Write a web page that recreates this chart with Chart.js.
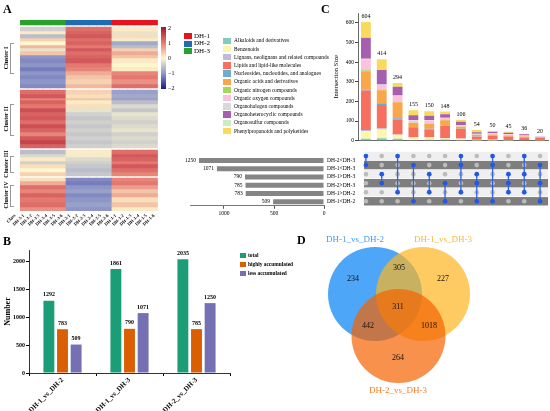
<!DOCTYPE html>
<html>
<head>
<meta charset="utf-8">
<title>Differential metabolites</title>
<script src="https://cdn.jsdelivr.net/npm/chart.js@4.4.1/dist/chart.umd.min.js"></script>
<style>
  html, body { margin: 0; padding: 0; background: #fff; }
  #page { position: relative; width: 550px; height: 411px; overflow: hidden; font-family: "Liberation Serif", "Times New Roman", serif; color: #000; }
  #page canvas { position: absolute; }
  .txt { position: absolute; white-space: nowrap; line-height: 1; }
  .letter { font-size: 12px; font-weight: bold; }
  .sw { position: absolute; }
  .mid { transform: translate(-50%, -50%); }
  .rot { transform: translate(-50%, -50%) rotate(-90deg); font-weight: bold; font-size: 6px; }
  .brk { position: absolute; border: 0.8px solid #999; border-right: none; width: 3px; }
</style>
</head>
<body>
<div id="page">
  <canvas id="hmc" width="19" height="230" style="left:0;top:18px"></canvas>
  <canvas id="hm" width="156" height="230" style="left:4px;top:18px"></canvas>
  <canvas id="up" width="225" height="137" style="left:325px;top:8px"></canvas>
  <canvas id="ss" width="182" height="68" style="left:178px;top:150px"></canvas>
  <canvas id="mx" width="192" height="58" style="left:358px;top:150px"></canvas>
  <canvas id="bb" width="235" height="171" style="left:0;top:240px"></canvas>
  <canvas id="vn" width="250" height="176" style="left:300px;top:235px"></canvas>

  <div class="txt letter" style="left:3px;top:3px">A</div>
  <div class="txt letter" style="left:3px;top:235px">B</div>
  <div class="txt letter" style="left:321px;top:3px">C</div>
  <div class="txt letter" style="left:297px;top:234px">D</div>

  <!-- heatmap colour key -->
  <div class="sw" style="left:161px;top:27px;width:4.5px;height:62px;background:linear-gradient(to bottom,rgb(168,18,42) 0%,rgb(228,120,112) 25%,rgb(253,247,206) 50%,rgb(142,150,200) 75%,rgb(27,27,138) 100%)"></div>
  <div class="txt" style="left:168px;top:25px;font-size:6px">2</div>
  <div class="txt" style="left:168px;top:39.5px;font-size:6px">1</div>
  <div class="txt" style="left:168px;top:55px;font-size:6px">0</div>
  <div class="txt" style="left:168px;top:70px;font-size:6px">&minus;1</div>
  <div class="txt" style="left:168px;top:84.5px;font-size:6px">&minus;2</div>

  <!-- cluster labels and dendrogram brackets -->
  <div class="txt rot" style="left:6px;top:58px">Cluster I</div>
  <div class="txt rot" style="left:6px;top:119px">Cluster II</div>
  <div class="txt rot" style="left:6px;top:164px">Cluster III</div>
  <div class="txt rot" style="left:6px;top:195px">Cluster IV</div>
  <div class="brk" style="left:10px;top:43px;height:29px"></div>
  <div class="brk" style="left:10px;top:104px;height:30px"></div>
  <div class="brk" style="left:10px;top:156px;height:15px"></div>
  <div class="brk" style="left:10px;top:185px;height:20px"></div>

  <!-- venn titles -->
  <div class="txt mid" style="left:355px;top:239px;font-size:9px;color:#3D9CF5">DH-1_vs_DH-2</div>
  <div class="txt mid" style="left:443px;top:239px;font-size:9px;color:#F5B93A">DH-1_vs_DH-3</div>
  <div class="txt mid" style="left:398px;top:390px;font-size:9px;color:#F77F2A">DH-2_vs_DH-3</div>

  <div id="legends"></div>
</div>

<script>
// ---------- data ----------
// heatmap: sample columns (green DH-3, blue DH-2, red DH-1)
const hmSamples = ['DH-3-1', 'DH-3-2', 'DH-3-3', 'DH-3-4', 'DH-3-5', 'DH-3-6',
  'DH-2-1', 'DH-2-2', 'DH-2-3', 'DH-2-4', 'DH-2-5', 'DH-2-6',
  'DH-1-1', 'DH-1-2', 'DH-1-3', 'DH-1-4', 'DH-1-5', 'DH-1-6'];
// row bands: [rows, DH-3 z, DH-2 z, DH-1 z, class shade]
const clusterI = [
  [4, -0.4, 1.1, 0.1, 0], [3, 0.1, 1.2, -0.2, 1], [4, -0.6, 1.3, 0.2, 0], [3, 0.3, 1.1, -0.1, 2],
  [4, 0.0, 1.2, -0.8, 0], [3, 0.5, 1.0, -0.6, 1], [3, -0.2, 1.3, 0.3, 0], [4, 0.4, 1.1, 0.6, 2],
  [3, -1.0, 1.2, 0.4, 0], [5, -1.1, 1.3, 0.1, 1], [4, -1.0, 1.0, 0.0, 0], [4, -1.2, 0.9, 0.1, 0],
  [4, -1.0, 0.6, 0.9, 2], [4, -1.1, 0.4, 1.0, 0], [5, -1.0, 0.3, 0.8, 1], [4, -1.1, 0.5, 1.1, 0]
];
const clusterII = [
  [4, 1.1, 0.3, -0.9, 0], [4, 1.3, 0.2, -0.8, 1], [2, 0.9, 0.4, -0.9, 0], [4, 1.2, 0.1, -0.6, 2],
  [4, 1.0, 0.2, -0.3, 0], [4, 1.4, -0.2, -0.5, 0], [4, 1.2, -0.4, -0.2, 1], [4, 1.3, -0.5, -0.3, 0],
  [4, 1.1, -0.4, -0.4, 2], [4, 1.4, -0.5, -0.3, 0], [4, 1.2, -0.4, -0.2, 1], [4, 0.9, -0.5, -0.4, 0],
  [4, 1.3, -0.4, -0.3, 0], [4, 1.5, -0.5, -0.4, 2], [4, 1.2, -0.4, -0.3, 0]
];
const clusterIII = [
  [4, -0.6, 0.1, 1.1, 0], [3, -0.3, -0.1, 1.3, 1], [4, 0.1, -0.3, 1.2, 0], [3, -0.4, -0.4, 1.0, 2],
  [4, 0.2, -0.5, 1.3, 0], [4, 0.0, -0.6, 1.1, 1], [4, 0.3, -0.5, 0.9, 0]
];
const clusterIV = [
  [3, 0.2, -1.1, 0.9, 1], [4, 0.6, -1.2, 1.0, 0], [4, 1.1, -1.0, 0.7, 2], [4, 0.9, -0.9, 0.4, 0],
  [4, 1.2, -1.1, 0.6, 1], [5, 1.0, -1.0, 0.2, 0], [5, 1.1, -0.9, 0.4, 2], [4, 0.8, -1.0, 0.1, 0]
];

// upset: intersections of the six direction sets
const setNames = ['DH-2<DH-3', 'DH-1<DH-3', 'DH-1>DH-3', 'DH-2>DH-3', 'DH-1>DH-2', 'DH-1<DH-2'];
const setSizes = [1250, 1071, 790, 785, 783, 509];
const setTicks = [0, 500, 1000];
const intersectSets = [[0, 1], [2, 3], [0, 4], [1, 5], [2, 4], [3, 5],
  [0, 1, 4], [2, 3, 5], [0, 1, 5], [2, 3, 4], [0, 2, 4], [1, 3, 5]];
const intersectSizes = [604, 414, 294, 155, 150, 148, 106, 54, 50, 45, 36, 20];
const intersectTicks = [0, 100, 200, 300, 400, 500, 600];
const upClasses = ['Alkaloids and derivatives', 'Benzenoids', 'Lignans, neolignans and related compounds',
  'Lipids and lipid-like molecules', 'Nucleosides, nucleotides, and analogues', 'Organic acids and derivatives',
  'Organic nitrogen compounds', 'Organic oxygen compounds', 'Organohalogen compounds',
  'Organoheterocyclic compounds', 'Organosulfur compounds', 'Phenylpropanoids and polyketides'];
const alkaloids = [10, 12, 10, 4, 5, 6, 2, 1, 1, 1, 0, 0];
const benzenoids = [39, 45, 20, 12, 12, 6, 8, 3, 4, 3, 2, 1];
const lignans = [6, 7, 2, 2, 2, 2, 1, 1, 0, 0, 0, 0];
const lipids = [200, 118, 76, 50, 38, 62, 48, 15, 20, 17, 14, 15];
const nucleosides = [6, 8, 6, 2, 4, 2, 2, 1, 1, 1, 1, 0];
const organicAcids = [93, 67, 82, 20, 24, 26, 10, 8, 6, 5, 4, 2];
const organicNitrogen = [5, 3, 2, 1, 2, 1, 1, 1, 0, 0, 0, 0];
const organicOxygen = [55, 24, 30, 12, 16, 10, 6, 5, 5, 6, 6, 1];
const organohalogen = [3, 2, 2, 2, 2, 2, 1, 1, 1, 1, 0, 0];
const organoheterocyclic = [107, 74, 44, 24, 22, 18, 18, 7, 6, 6, 6, 1];
const organosulfur = [3, 0, 0, 0, 0, 0, 0, 0, 0, 0, 0, 0];
const phenylpropanoids = [77, 54, 20, 26, 23, 13, 9, 11, 6, 5, 3, 0];
const upCounts = [alkaloids, benzenoids, lignans, lipids, nucleosides, organicAcids,
  organicNitrogen, organicOxygen, organohalogen, organoheterocyclic, organosulfur, phenylpropanoids];

// bar chart B
const comparisons = ['DH-1_vs_DH-2', 'DH-1_vs_DH-3', 'DH-2_vs_DH-3'];
const totalCounts = [1292, 1861, 2035];
const highCounts = [783, 790, 785];
const lessCounts = [509, 1071, 1250];
const numberTicks = [0, 500, 1000, 1500, 2000];

// venn D
const vennCounts = [234, 305, 227, 311, 442, 1018, 264];

// ---------- styles / layout ----------
const serif = '"Liberation Serif", "Times New Roman", serif';
Chart.defaults.font.family = serif;
Chart.defaults.color = '#000';
Chart.defaults.animation = false;
Chart.defaults.responsive = false;
Chart.defaults.events = [];
Chart.defaults.plugins.legend.display = false;
Chart.defaults.plugins.tooltip.enabled = false;

const groupColors = ['#2BA02B', '#1F6CB4', '#E8141C'];
const classShades = ['#F6CBA6', '#F1B389', '#F9DCC2'];
const heatStops = [[-2, [27, 27, 138]], [-1, [142, 150, 200]], [0, [253, 247, 206]], [1, [228, 120, 112]], [2, [168, 18, 42]]];
const upColors = ['#80CDB9', '#FBF7AC', '#BEBADA', '#F7705F', '#6FAAD3', '#F9A74A',
  '#A6D65A', '#F9C3DF', '#D9D9D9', '#A65FAE', '#CCEBC5', '#F9DA5C'];
const barColors = ['#1B9E77', '#D95F02', '#7570B3'];
const vennCircles = [ // centre (px in canvas) and radius, drawn bottom to top
  { x: 75, y: 59, r: 47, color: 'rgba(1,128,245,0.7)' },
  { x: 123, y: 59, r: 47, color: 'rgba(252,181,31,0.7)' },
  { x: 98.5, y: 101, r: 47, color: 'rgba(244,99,0,0.7)' }
];
const vennLabelPos = [[53, 44], [99, 33], [143, 44], [98, 72], [68, 91], [129, 91], [98, 123]];
const transparent = 'rgba(0,0,0,0)';

function heatColor(v) {
  v = Math.max(-2, Math.min(2, v));
  for (let k = 0; k < heatStops.length - 1; k++) {
    const a = heatStops[k], b = heatStops[k + 1];
    if (v <= b[0]) {
      const t = (v - a[0]) / (b[0] - a[0]);
      const c = a[1].map((x, j) => Math.round(x + (b[1][j] - x) * t));
      return 'rgb(' + c.join(',') + ')';
    }
  }
}

// fixed tick values on a numeric axis
function useTicks(values) {
  return function (scale) { scale.ticks = values.map(v => ({ value: v })); };
}
const plain = v => String(v);

// simple value-label plugin
const valueLabels = {
  id: 'valueLabels',
  afterDatasetsDraw(chart, args, opts) {
    if (!opts.draw) return;
    const ctx = chart.ctx;
    ctx.save();
    opts.draw(chart, ctx);
    ctx.restore();
  }
};

// ---------- A: heatmap (stacked bars, one band per row group) ----------
const bands = [];
bands.push({ h: 5, cells: hmSamples.map((s, i) => groupColors[Math.floor(i / 6)]), cls: transparent });
bands.push({ h: 2, cells: transparent, cls: transparent });
[clusterI, clusterII, clusterIII, clusterIV].forEach((cl, ci) => {
  if (ci > 0) bands.push({ h: 2, cells: transparent, cls: transparent });
  cl.forEach(row => bands.push({
    h: row[0],
    cells: hmSamples.map((s, i) => heatColor(row[1 + Math.floor(i / 6)])),
    cls: classShades[row[4]]
  }));
});
const hmTotal = bands.reduce((s, b) => s + b.h, 0);

function heatOptions(padLeft, padRight) {
  return {
    layout: { padding: { left: padLeft, right: padRight, top: 2, bottom: 0 } },
    scales: {
      x: {
        stacked: true,
        grid: { display: false, drawTicks: false },
        border: { display: false },
        ticks: { font: { size: 4.6, weight: 'bold' }, minRotation: 45, maxRotation: 45, autoSkip: false, padding: 2 },
        afterFit: a => { a.height = 37; }
      },
      y: { stacked: true, display: false, reverse: true, min: 0, max: hmTotal }
    }
  };
}

new Chart(document.getElementById('hm'), {
  type: 'bar',
  data: {
    labels: hmSamples,
    datasets: bands.map(b => ({
      data: hmSamples.map(() => b.h), backgroundColor: b.cells,
      borderWidth: 0, barPercentage: 1, categoryPercentage: 1
    }))
  },
  options: heatOptions(16, 2)
});

new Chart(document.getElementById('hmc'), {
  type: 'bar',
  data: {
    labels: ['Class'],
    datasets: bands.map(b => ({
      data: [b.h], backgroundColor: b.cls,
      borderWidth: 0, barPercentage: 1, categoryPercentage: 1
    }))
  },
  options: heatOptions(14, 1)
});

// ---------- C: intersection size bars ----------
new Chart(document.getElementById('up'), {
  type: 'bar',
  data: {
    labels: intersectSizes.map(String),
    datasets: upCounts.map((d, k) => ({
      label: upClasses[k], data: d, backgroundColor: upColors[k],
      borderWidth: 0, barPercentage: 0.62, categoryPercentage: 1
    }))
  },
  options: {
    layout: { padding: { left: 0, right: 2, top: 5, bottom: 0 } },
    scales: {
      x: {
        stacked: true,
        grid: { display: false },
        border: { color: '#444', width: 0.8 },
        ticks: { display: false },
        afterFit: a => { a.height = 3; }
      },
      y: {
        stacked: true, min: 0, max: 650,
        afterBuildTicks: useTicks(intersectTicks),
        grid: { drawOnChartArea: false, tickLength: 3, color: '#444' },
        border: { color: '#444', width: 0.8 },
        ticks: { font: { size: 5.5 }, padding: 1, callback: plain },
        title: { display: true, text: 'Intersection Size', font: { size: 6.5 }, padding: { top: 7, bottom: 0 } },
        afterFit: a => { a.width = 33; }
      }
    },
    plugins: {
      valueLabels: {
        draw(chart, ctx) {
          ctx.font = '6px ' + serif;
          ctx.fillStyle = '#000';
          ctx.textAlign = 'center';
          ctx.textBaseline = 'bottom';
          intersectSizes.forEach((v, i) => {
            ctx.fillText(String(v), chart.scales.x.getPixelForValue(i), chart.scales.y.getPixelForValue(v) - 2.5);
          });
        }
      }
    }
  },
  plugins: [valueLabels]
});

// ---------- C: set sizes ----------
new Chart(document.getElementById('ss'), {
  type: 'bar',
  data: {
    labels: setNames,
    datasets: [{ data: setSizes, backgroundColor: '#858585', borderWidth: 0, barPercentage: 0.6, categoryPercentage: 1 }]
  },
  options: {
    indexAxis: 'y',
    layout: { padding: { left: 12, right: 0, top: 1.5, bottom: 0 } },
    scales: {
      x: {
        reverse: true, min: 0, max: 1340,
        afterBuildTicks: useTicks(setTicks),
        grid: { drawOnChartArea: false, tickLength: 3, color: '#555' },
        border: { color: '#555', width: 0.8 },
        ticks: { font: { size: 5.5 }, padding: 1, maxRotation: 0, callback: plain },
        afterFit: a => { a.height = 12.2; }
      },
      y: {
        position: 'right',
        grid: { display: false, drawTicks: false },
        border: { display: false },
        ticks: { font: { size: 5.5 }, padding: 3, autoSkip: false },
        afterFit: a => { a.width = 36; }
      }
    },
    plugins: {
      valueLabels: {
        draw(chart, ctx) {
          ctx.font = '5.5px ' + serif;
          ctx.fillStyle = '#000';
          ctx.textAlign = 'right';
          ctx.textBaseline = 'middle';
          chart.getDatasetMeta(0).data.forEach((bar, i) => {
            ctx.fillText(String(setSizes[i]), bar.x - 3, bar.y);
          });
        }
      }
    }
  },
  plugins: [valueLabels]
});

// ---------- C: membership matrix ----------
const greyPts = [], bluePts = [];
intersectSets.forEach((sets, c) => {
  setNames.forEach((n, r) => (sets.includes(r) ? bluePts : greyPts).push({ x: c, y: r }));
});
const matrixBands = {
  id: 'matrixBands',
  beforeDatasetsDraw(chart) {
    const { ctx, chartArea, scales } = chart;
    ctx.save();
    setNames.forEach((n, r) => {
      const y = scales.y.getPixelForValue(r);
      ctx.fillStyle = r % 2 ? '#7E7E7E' : '#EFEFEF';
      ctx.fillRect(chartArea.left + 6, y - 4.2, chartArea.right - chartArea.left - 6, 8.4);
    });
    ctx.restore();
  }
};
new Chart(document.getElementById('mx'), {
  type: 'scatter',
  data: {
    datasets: [
      { data: bluePts, backgroundColor: '#2357E4', borderWidth: 0, pointRadius: 2.4, order: 0 },
      ...intersectSets.map((sets, c) => ({
        data: [{ x: c, y: Math.min(...sets) }, { x: c, y: Math.max(...sets) }],
        showLine: true, borderColor: '#2F62E6', borderWidth: 1.3, pointRadius: 0, order: 1
      })),
      { data: greyPts, backgroundColor: '#BCBCBC', borderWidth: 0, pointRadius: 2.3, order: 2 }
    ]
  },
  options: {
    layout: { autoPadding: false, padding: { left: 0, right: 2, top: 1.5, bottom: 2.2 } },
    scales: {
      x: { type: 'linear', min: -0.5, max: 11.5, display: false },
      y: { type: 'linear', min: -0.5, max: 5.5, reverse: true, display: false }
    }
  },
  plugins: [matrixBands]
});

// ---------- B: grouped bars ----------
new Chart(document.getElementById('bb'), {
  type: 'bar',
  data: {
    labels: comparisons,
    datasets: [
      { label: 'total', data: totalCounts, backgroundColor: barColors[0] },
      { label: 'highly accumulated', data: highCounts, backgroundColor: barColors[1] },
      { label: 'less accumulated', data: lessCounts, backgroundColor: barColors[2] }
    ].map(d => Object.assign(d, { borderWidth: 0, barPercentage: 0.8, categoryPercentage: 0.61 }))
  },
  options: {
    layout: { padding: { left: 0, right: 5, top: 10, bottom: 0 } },
    scales: {
      x: {
        grid: { drawOnChartArea: false, tickLength: 3, color: '#000' },
        border: { color: '#000', width: 0.8 },
        ticks: { font: { size: 7, weight: 'bold' }, minRotation: 45, maxRotation: 45, padding: 0 },
        afterFit: a => { a.height = 38; }
      },
      y: {
        min: 0, max: 2200,
        afterBuildTicks: useTicks(numberTicks),
        grid: { drawOnChartArea: false, tickLength: 3, color: '#000' },
        border: { color: '#000', width: 0.8 },
        ticks: { font: { size: 6, weight: 'bold' }, padding: 1, callback: plain },
        title: { display: true, text: 'Number', font: { size: 8, weight: 'bold' }, padding: { top: 3, bottom: 0 } },
        afterFit: a => { a.width = 29; }
      }
    },
    plugins: {
      valueLabels: {
        draw(chart, ctx) {
          ctx.font = 'bold 6px ' + serif;
          ctx.fillStyle = '#000';
          ctx.textAlign = 'center';
          ctx.textBaseline = 'bottom';
          chart.data.datasets.forEach((ds, k) => {
            chart.getDatasetMeta(k).data.forEach((bar, i) => ctx.fillText(String(ds.data[i]), bar.x, bar.y - 3));
          });
        }
      }
    }
  },
  plugins: [valueLabels]
});

// ---------- D: venn ----------
new Chart(document.getElementById('vn'), {
  type: 'bubble',
  data: {
    datasets: vennCircles.map((c, k) => ({
      data: [{ x: c.x, y: c.y, r: c.r }], backgroundColor: c.color, borderWidth: 0,
      order: vennCircles.length - k, clip: false
    }))
  },
  options: {
    layout: { autoPadding: false, padding: 0 },
    scales: {
      x: { min: 0, max: 250, display: false },
      y: { min: 0, max: 176, reverse: true, display: false }
    },
    plugins: {
      valueLabels: {
        draw(chart, ctx) {
          ctx.font = '8px ' + serif;
          ctx.fillStyle = '#111';
          ctx.textAlign = 'center';
          ctx.textBaseline = 'middle';
          vennCounts.forEach((v, i) => {
            ctx.fillText(String(v), chart.scales.x.getPixelForValue(vennLabelPos[i][0]), chart.scales.y.getPixelForValue(vennLabelPos[i][1]));
          });
        }
      }
    }
  },
  plugins: [valueLabels]
});

// ---------- legends ----------
let html = '';
['DH-1', 'DH-2', 'DH-3'].forEach((g, i) => {
  const top = 33 + i * 7.6;
  html += '<div class="sw" style="left:184px;top:' + top + 'px;width:7.5px;height:6.2px;background:' + groupColors[2 - i] + '"></div>';
  html += '<div class="txt" style="left:194px;top:' + (top - 0.2) + 'px;font-size:7px">' + g + '</div>';
});
upClasses.forEach((c, i) => {
  const top = 37.5 + i * 8.2;
  html += '<div class="sw" style="left:223px;top:' + top + 'px;width:8px;height:6.5px;background:' + upColors[i] + '"></div>';
  html += '<div class="txt" style="left:234px;top:' + (top + 0.8) + 'px;font-size:5.4px">' + c + '</div>';
});
['total', 'highly accumulated', 'less accumulated'].forEach((c, i) => {
  const top = 252.5 + i * 9;
  html += '<div class="sw" style="left:240px;top:' + top + 'px;width:6px;height:5.5px;background:' + barColors[i] + '"></div>';
  html += '<div class="txt" style="left:248px;top:' + (top + 0.3) + 'px;font-size:5.4px;font-weight:bold">' + c + '</div>';
});
document.getElementById('legends').innerHTML = html;
</script>
</body>
</html>
